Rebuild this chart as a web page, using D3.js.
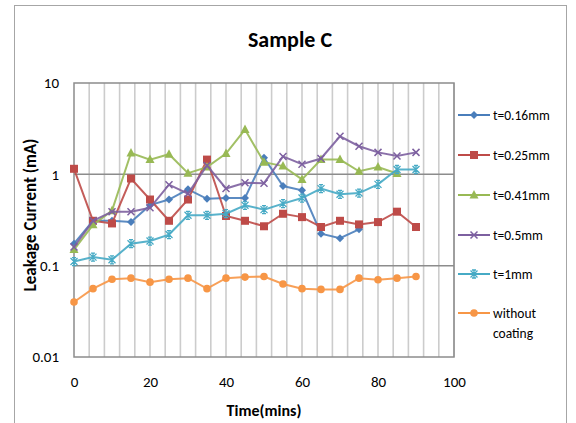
<!DOCTYPE html>
<html><head><meta charset="utf-8">
<script src="https://cdn.jsdelivr.net/npm/d3@7"></script>
<style>
body{margin:0;background:#fff;}
text{font-family:Carlito,Lato,"Liberation Sans",sans-serif;}
</style></head>
<body><svg id="c" width="576" height="423"></svg>
<script>
const times = [0,5,10,15,20,25,30,35,40,45,50,55,60,65,70,75,80,85,90];
const xTicks = [0,20,40,60,80,100];
const yTicks = [0.01,0.1,1,10];
const yTickLabels = ["0.01","0.1","1","10"];
const t016 = [0.174,0.31,0.31,0.30,0.46,0.53,0.685,0.54,0.55,0.55,1.52,0.745,0.668,0.224,0.200,0.250];
const t025 = [1.15,0.31,0.29,0.90,0.53,0.31,0.53,1.45,0.35,0.31,0.27,0.37,0.34,0.265,0.31,0.283,0.30,0.39,0.265];
const t041 = [0.15,0.28,0.40,1.71,1.45,1.66,1.03,1.20,1.69,3.09,1.36,1.23,0.88,1.45,1.45,1.08,1.20,1.02];
const t05  = [0.16,0.31,0.39,0.39,0.43,0.77,0.615,1.25,0.70,0.81,0.80,1.57,1.29,1.49,2.61,2.03,1.74,1.59,1.74];
const t1   = [0.111,0.124,0.116,0.174,0.186,0.219,0.356,0.356,0.371,0.458,0.411,0.478,0.55,0.697,0.604,0.624,0.777,1.13,1.13];
const noCoat = [0.040,0.056,0.071,0.073,0.066,0.071,0.073,0.056,0.073,0.075,0.076,0.063,0.056,0.055,0.055,0.073,0.070,0.073,0.076];
const seriesNames = ["t=0.16mm","t=0.25mm","t=0.41mm","t=0.5mm","t=1mm","without coating"];
const seriesValues = [t016,t025,t041,t05,t1,noCoat];
const colors = ["#4a7ebb","#be4b48","#98b954","#7d60a0","#46aac5","#f79646"];
const markers = ["diamond","square","triangle","x","star","circle"];

const svg = d3.select("#c");
svg.append("rect").attr("x",14.5).attr("y",5.5).attr("width",552).attr("height",420).attr("fill","none").attr("stroke","#a6a6a6");

const x = d3.scaleLinear().domain([0,100]).range([74,454]);
const y = d3.scaleLog().domain([0.01,10]).range([357,83]);

svg.append("g").selectAll("line").data(d3.range(4,101,4)).join("line")
  .attr("x1",d=>x(d)).attr("x2",d=>x(d)).attr("y1",y(10)).attr("y2",y(0.01))
  .attr("stroke","#cccccc").attr("stroke-width",1.6);
svg.append("g").selectAll("line").data([0.1,1]).join("line")
  .attr("x1",x(0)).attr("x2",x(100)).attr("y1",d=>y(d)).attr("y2",d=>y(d))
  .attr("stroke","#8c8c8c").attr("stroke-width",1.5);
svg.append("rect").attr("x",x(0)).attr("y",y(10)).attr("width",x(100)-x(0)).attr("height",y(0.01)-y(10))
  .attr("fill","none").attr("stroke","#8c8c8c").attr("stroke-width",1.5);

const xAxis = svg.append("g").attr("transform",`translate(0,${y(0.01)})`)
  .call(d3.axisBottom(x).tickValues(xTicks).tickSize(0).tickPadding(19));
xAxis.select(".domain").remove();
xAxis.selectAll("text").attr("font-size",15).attr("fill","#000").style("font-family","Carlito,Lato,sans-serif");
const yAxis = svg.append("g").attr("transform",`translate(${x(0)},0)`)
  .call(d3.axisLeft(y).tickValues(yTicks).tickFormat((d,i)=>yTickLabels[i]).tickSize(0).tickPadding(15));
yAxis.select(".domain").remove();
yAxis.selectAll("text").attr("font-size",15).attr("fill","#000").style("font-family","Carlito,Lato,sans-serif");

svg.append("text").attr("x",290).attr("y",47).attr("text-anchor","middle").attr("font-size",22).attr("font-weight","bold").text("Sample C");
svg.append("text").attr("x",264).attr("y",416).attr("text-anchor","middle").attr("font-size",16).attr("font-weight","bold").text("Time(mins)");
svg.append("text").attr("transform","translate(36,215) rotate(-90)").attr("text-anchor","middle").attr("font-size",17).attr("font-weight","bold").text("Leakage Current (mA)");

function marker(g, type, color, cx, cy){
  if(type==="diamond"){
    g.append("path").attr("d",`M${cx},${cy-4}L${cx+4},${cy}L${cx},${cy+4}L${cx-4},${cy}Z`).attr("fill",color);
  } else if(type==="square"){
    g.append("rect").attr("x",cx-4).attr("y",cy-4).attr("width",8).attr("height",8).attr("fill",color);
  } else if(type==="triangle"){
    g.append("path").attr("d",`M${cx},${cy-5}L${cx+4.5},${cy+3.5}L${cx-4.5},${cy+3.5}Z`).attr("fill",color);
  } else if(type==="x"){
    g.append("path").attr("d",`M${cx-3.5},${cy-3.5}L${cx+3.5},${cy+3.5}M${cx-3.5},${cy+3.5}L${cx+3.5},${cy-3.5}`).attr("stroke",color).attr("stroke-width",1.5);
  } else if(type==="star"){
    g.append("path").attr("d",`M${cx-3.5},${cy-3.5}L${cx+3.5},${cy+3.5}M${cx-3.5},${cy+3.5}L${cx+3.5},${cy-3.5}M${cx},${cy-4}L${cx},${cy+4}M${cx-2},${cy-4}L${cx+2},${cy-4}M${cx-2},${cy+4}L${cx+2},${cy+4}`).attr("stroke",color).attr("stroke-width",1.3);
  } else {
    g.append("circle").attr("cx",cx).attr("cy",cy).attr("r",3.8).attr("fill",color);
  }
}

const line = d3.line().x(d=>x(d[0])).y(d=>y(d[1]));
seriesValues.forEach((vals,i)=>{
  const pts = vals.map((v,j)=>[times[j],v]);
  const g = svg.append("g");
  g.append("path").attr("d",line(pts)).attr("fill","none").attr("stroke",colors[i]).attr("stroke-width",2).attr("stroke-opacity",0.9);
  pts.forEach(p=>marker(g,markers[i],colors[i],x(p[0]),y(p[1])));
});

const legY = [115,155,195,235,274];
seriesNames.forEach((n,i)=>{
  const ly = i<5 ? legY[i] : 313;
  const g = svg.append("g");
  g.append("line").attr("x1",458).attr("x2",490).attr("y1",ly).attr("y2",ly).attr("stroke",colors[i]).attr("stroke-width",2);
  marker(g,markers[i],colors[i],474,ly);
  if(i<5){
    g.append("text").attr("x",493).attr("y",ly+5).attr("font-size",13.5).text(n);
  } else {
    g.append("text").attr("x",493).attr("y",ly+5).attr("font-size",13.5).text("without");
    g.append("text").attr("x",493).attr("y",ly+25).attr("font-size",13.5).text("coating");
  }
});
</script></body></html>
